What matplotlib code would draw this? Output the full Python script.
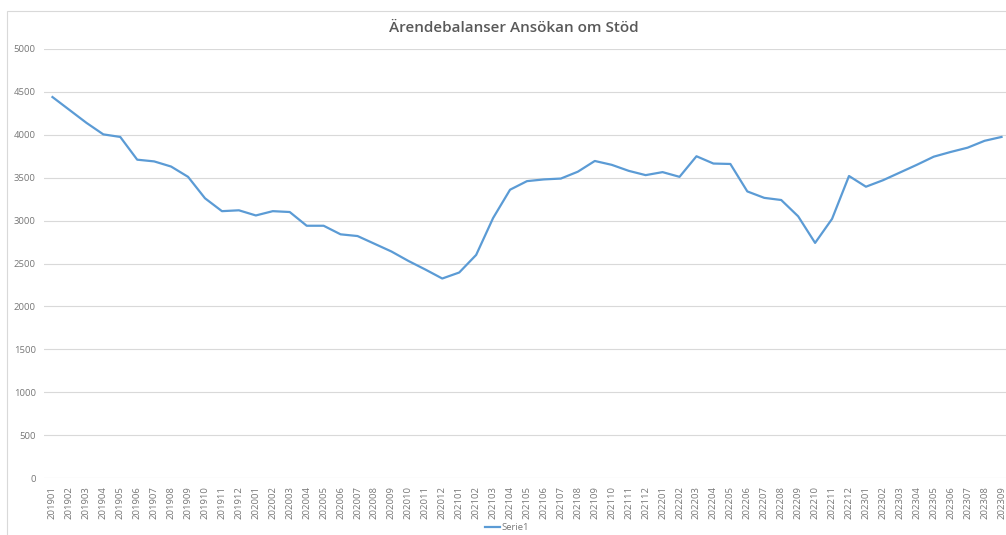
import matplotlib.pyplot as plt
from matplotlib.patches import Rectangle

# monthly case balance
months = [
    "201901", "201902", "201903", "201904", "201905", "201906", "201907", "201908",
    "201909", "201910", "201911", "201912", "202001", "202002", "202003", "202004",
    "202005", "202006", "202007", "202008", "202009", "202010", "202011", "202012",
    "202101", "202102", "202103", "202104", "202105", "202106", "202107", "202108",
    "202109", "202110", "202111", "202112", "202201", "202202", "202203", "202204",
    "202205", "202206", "202207", "202208", "202209", "202210", "202211", "202212",
    "202301", "202302", "202303", "202304", "202305", "202306", "202307", "202308",
    "202309",
]
serie1 = [
    4440, 4290, 4140, 4005, 3975, 3710, 3690, 3630,
    3510, 3260, 3110, 3120, 3060, 3110, 3100, 2940,
    2940, 2840, 2820, 2730, 2640, 2530, 2430, 2325,
    2395, 2600, 3030, 3360, 3460, 3480, 3490, 3570,
    3695, 3650, 3580, 3530, 3565, 3510, 3750, 3665,
    3660, 3340, 3265, 3240, 3050, 2740, 3020, 3520,
    3395, 3470, 3560, 3650, 3745, 3800, 3850, 3930,
    3975,
]
yticks = list(range(0, 5001, 500))

plt.rcParams["font.family"] = ["Open Sans", "DejaVu Sans"]

fig = plt.figure(figsize=(10.06, 5.35), dpi=100)
fig.patches.append(Rectangle((7 / 1006, -0.1), 1.2, 1 - 11 / 535 + 0.1,
                             transform=fig.transFigure, fill=False,
                             edgecolor="#d9d9d9", linewidth=0.8))

ax = fig.add_axes([44 / 1006, 1 - 478 / 535, 966 / 1006, 429 / 535])
x = list(range(len(months)))
ax.plot(x, serie1, color="#5b9bd5", linewidth=1.6, label="Serie1")

ax.set_xlim(-0.5, len(months) - 0.5)
ax.set_ylim(0, 5000)
ax.set_yticks(yticks)
ax.set_yticklabels([str(v) for v in yticks], fontsize=6.8, color="#777777")
ax.set_xticks(x)
ax.set_xticklabels(months, rotation=90, fontsize=6.8, color="#777777")
ax.tick_params(length=0, pad=6)
ax.grid(axis="y", color="#d9d9d9", linewidth=0.8)
ax.set_axisbelow(True)
for side in ax.spines.values():
    side.set_visible(False)

fig.text(0.511, 1 - 28 / 535, "Ärendebalanser Ansökan om Stöd", ha="center",
         va="center", fontsize=11, fontweight="semibold", color="#595959")

ax.legend(loc="center", bbox_to_anchor=(507 / 1006, 1 - 528 / 535),
          bbox_transform=fig.transFigure, frameon=False, fontsize=6.8,
          handlelength=1.6, handletextpad=0.2, labelcolor="#777777")

fig.savefig("out.png", dpi=100)
